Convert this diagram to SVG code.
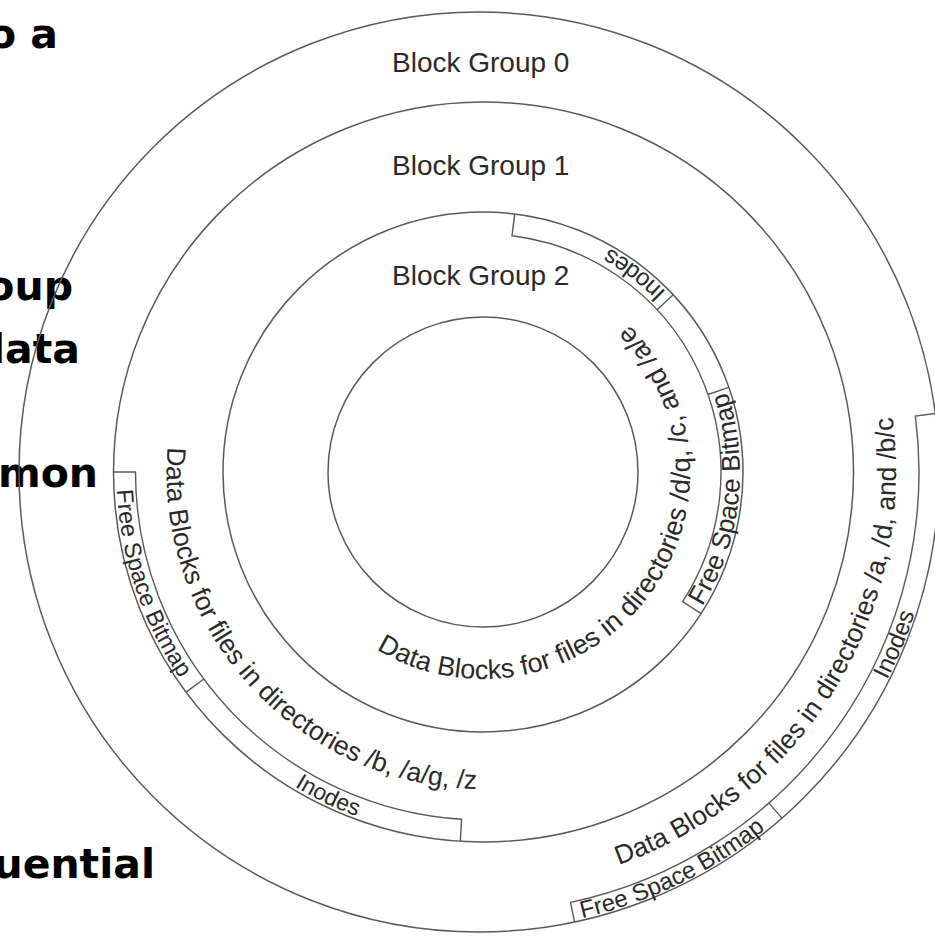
<svg xmlns="http://www.w3.org/2000/svg" width="935" height="937" viewBox="0 0 935 937">
<style>
.ring{fill:none;stroke:#5a5a5a;stroke-width:1.5}
.strip{fill:none;stroke:#5a5a5a;stroke-width:1.4}
.lbl{font-family:"Liberation Sans",Arial,sans-serif;fill:#2a2a2a}
.big{font-family:"Comic Sans MS","DejaVu Sans",sans-serif;font-weight:bold;font-size:41px;fill:#000;text-anchor:end}
</style>
<defs>
<path id="p2data" d="M376.4 649.4 A207 207 0 0 0 616.1 313.4"/>
<path id="p1data" d="M167.5 447.1 A317 317 0 0 0 538.5 784.2"/>
<path id="p0data" d="M618.9 864.9 A417 417 0 0 0 881.8 364.1"/>
<path id="p0fsb" d="M582.0 918.3 A458 458 0 0 0 829.8 766.4"/>
<path id="p0ino" d="M887.1 679.9 A458 458 0 0 0 935.3 511.9"/>
<path id="p1fsb" d="M116.9 489.9 A367 367 0 0 0 247.6 753.1"/>
<path id="p1ino" d="M294.5 786.6 A367 367 0 0 0 419.8 833.4"/>
<path id="p2fsb" d="M702.1 606.3 A257 257 0 0 0 715.9 363.4"/>
<path id="p2ino" d="M666.3 291.9 A257 257 0 0 0 549.5 223.8"/>
</defs>
<rect width="935" height="937" fill="#fff"/>
<g id="side-text">
<text class="big" x="58" y="48">o a</text>
<text class="big" x="73" y="300">oup</text>
<text class="big" x="80" y="363">lata</text>
<text class="big" x="98" y="487">mon</text>
<text class="big" x="155" y="878">uential</text>
</g>
<g id="circles">
<circle class="ring" cx="479" cy="472" r="460"/>
<circle class="ring" cx="483.5" cy="472" r="370"/>
<circle class="ring" cx="483" cy="472" r="260"/>
<circle class="ring" cx="483" cy="472" r="155"/>
</g>
<g id="group0">
<path class="strip" d="M574.6 921.9 L570.5 902.4 A440 440 0 0 0 915.4 416.1 L935.3 413.5 M782.0 818.1 L768.8 803.1"/>
<text class="lbl" x="392" y="72" font-size="28">Block Group 0</text>
<text class="lbl" font-size="26.5"><textPath href="#p0data">Data Blocks for files in directories /a, /d, and /b/c</textPath></text>
<text class="lbl" font-size="24"><textPath href="#p0fsb">Free Space Bitmap</textPath></text>
<text class="lbl" font-size="24"><textPath href="#p0ino">Inodes</textPath></text>
</g>
<g id="group1">
<path class="strip" d="M113.5 472 L135.5 472 A348 348 0 0 0 461.6 819.3 L460.3 841.3 M186.1 692.1 L203.7 679.0"/>
<text class="lbl" x="392" y="175" font-size="28">Block Group 1</text>
<text class="lbl" font-size="26.5"><textPath href="#p1data">Data Blocks for files in directories /b, /a/g, /z</textPath></text>
<text class="lbl" font-size="23.5"><textPath href="#p1fsb">Free Space Bitmap</textPath></text>
<text class="lbl" font-size="23"><textPath href="#p1ino">Inodes</textPath></text>
</g>
<g id="group2">
<path class="strip" d="M514.7 213.9 L512.0 235.8 A238 238 0 0 1 682.6 601.6 L701.1 613.6 M673.2 294.7 L657.1 309.7 M728.8 387.4 L708.0 394.5"/>
<text class="lbl" x="392" y="285" font-size="28">Block Group 2</text>
<text class="lbl" font-size="27"><textPath href="#p2data">Data Blocks for files in directories /d/q, /c, and /a/e</textPath></text>
<text class="lbl" font-size="26"><textPath href="#p2fsb">Free Space Bitmap</textPath></text>
<text class="lbl" font-size="24"><textPath href="#p2ino">Inodes</textPath></text>
</g>
</svg>
